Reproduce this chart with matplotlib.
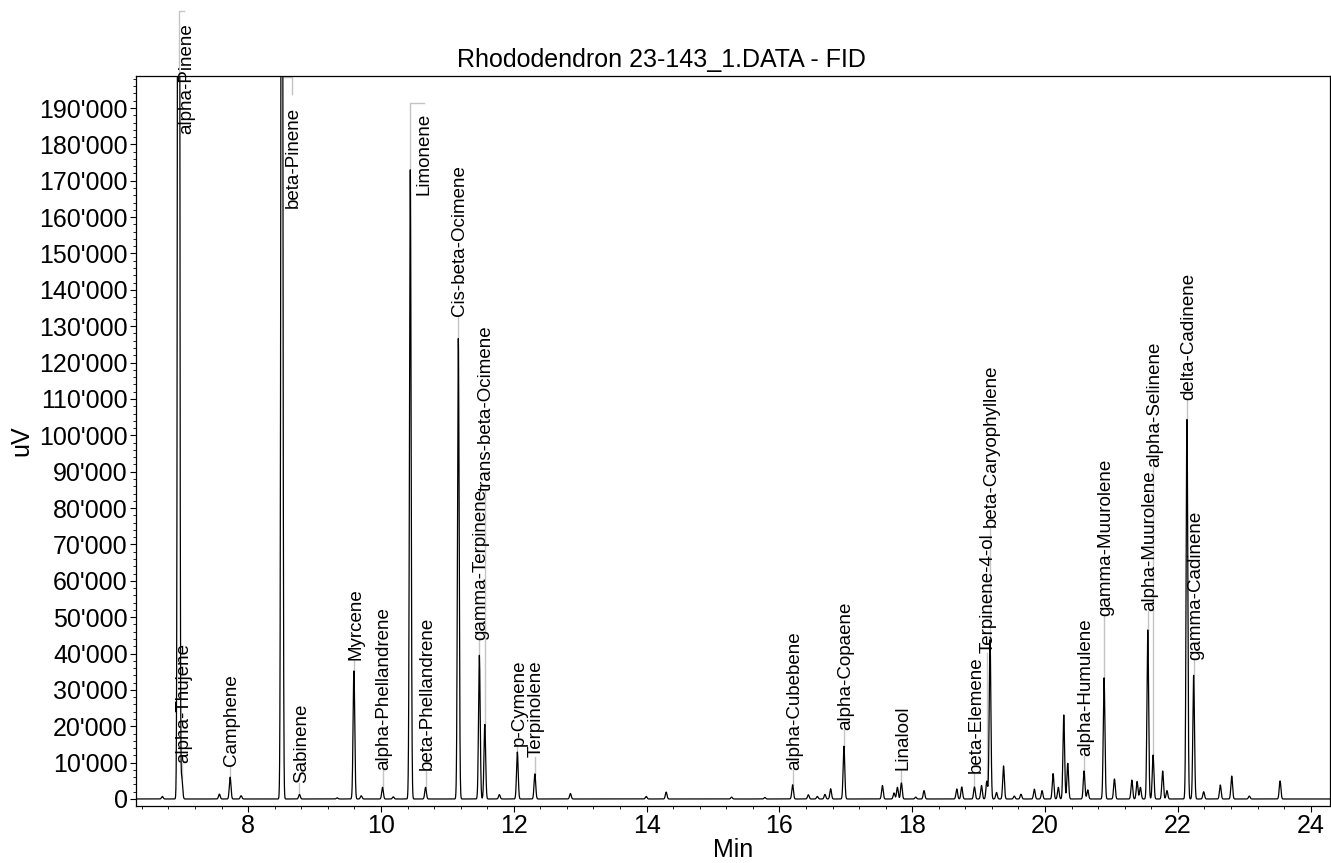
import numpy as np
import matplotlib
matplotlib.use("Agg")
import matplotlib.pyplot as plt
from matplotlib.ticker import MultipleLocator, FuncFormatter

plt.rcParams['font.family'] = ['Liberation Sans', 'DejaVu Sans']

# peak table: retention time (min), height (uV)
peak_times = [6.708, 6.953, 7.001, 7.567, 7.729, 7.894, 8.508, 8.773, 9.341, 9.593,
              9.703, 10.024, 10.185, 10.442, 10.672, 11.165, 11.482, 11.564, 11.783, 12.054,
              12.318, 12.853, 13.994, 14.295, 15.280, 15.781, 16.199, 16.436, 16.571, 16.686,
              16.772, 16.972, 17.551, 17.726, 17.777, 17.837, 18.053, 18.178, 18.671, 18.746,
              18.937, 19.043, 19.123, 19.172, 19.269, 19.375, 19.537, 19.638, 19.839, 19.955,
              20.121, 20.200, 20.282, 20.342, 20.588, 20.643, 20.889, 21.045, 21.307, 21.386,
              21.436, 21.547, 21.627, 21.771, 21.836, 22.137, 22.238, 22.389, 22.639, 22.811,
              23.076, 23.539]
peak_heights = [700, 600000, 5800, 1350, 6000, 900, 400000, 1250, 300, 35300,
                900, 3200, 600, 173000, 3200, 127000, 39500, 20500, 1200, 12900,
                6900, 1500, 700, 1900, 500, 400, 3900, 1150, 700, 1250,
                2800, 14500, 3700, 1650, 3200, 4400, 500, 2300, 2750, 3300,
                3300, 3700, 4900, 43800, 1800, 9100, 800, 1300, 2700, 2300,
                7000, 3200, 23100, 9800, 7700, 2500, 33400, 5500, 5200, 4800,
                3200, 46600, 12100, 7700, 2300, 104700, 34000, 2000, 3850, 6300,
                800, 4950]

# labelled peaks: name, index into the peak table, height where the label starts (uV)
label_names = ["alpha-Thujene", "Camphene", "Sabinene", "Myrcene", "alpha-Phellandrene",
               "beta-Phellandrene", "Cis-beta-Ocimene", "gamma-Terpinene", "trans-beta-Ocimene",
               "p-Cymene", "Terpinolene", "alpha-Cubebene", "alpha-Copaene", "Linalool",
               "beta-Elemene", "Terpinene-4-ol", "beta-Caryophyllene", "alpha-Humulene",
               "gamma-Muurolene", "alpha-Muurolene", "alpha-Selinene", "delta-Cadinene",
               "gamma-Cadinene"]
label_peaks = [2, 4, 7, 9, 11, 14, 15, 16, 17, 19, 20, 26, 31, 35, 40, 42, 43, 54, 56, 61, 62, 65, 66]
label_y = [9800, 9200, 4400, 38300, 8000, 8000, 132700, 43800, 84800, 14600, 11600, 8000,
           19000, 8000, 7100, 40100, 74900, 11700, 50200, 51600, 91400, 109800, 38300]

t = np.arange(6.3, 24.3, 0.002)
sigma = 0.0125
signal = np.zeros_like(t)
for tr, h in zip(peak_times, peak_heights):
    signal += h * np.exp(-0.5 * ((t - tr) / sigma) ** 2)

fig = plt.figure(figsize=(13.31, 8.63), dpi=100)
ax = fig.add_axes([0.1022, 0.0666, 0.8970, 0.8453])

ax.plot(t, signal, color='black', lw=0.9, zorder=3)
ax.set_xlim(6.312, 24.29)
ax.set_ylim(-1800, 198800)

grey = '#c4c4c4'
lab_fs = 13.5
dx = 0.025

for name, i, ly in zip(label_names, label_peaks, label_y):
    tr, h = peak_times[i], peak_heights[i]
    ax.plot([tr, tr], [h, ly], color=grey, lw=1, zorder=2)
    ax.text(tr + dx, ly, name, rotation=90, ha='center', va='bottom', fontsize=lab_fs)

# off-scale / side labels with small brackets
tp = peak_times[1]
ax.plot([tp, tp, 7.035], [198800, 216700, 216700], color=grey, lw=1, clip_on=False, zorder=2)
ax.text(7.073, 213400, "alpha-Pinene", rotation=90, ha='center', va='top', fontsize=lab_fs, clip_on=False)

tb = peak_times[6]
ax.plot([tb + 0.03, 8.659, 8.659], [198500, 198500, 193900], color=grey, lw=1, zorder=2)
ax.text(8.683, 190400, "beta-Pinene", rotation=90, ha='center', va='top', fontsize=lab_fs)

tl = peak_times[13]
ax.plot([tl, tl, 10.642], [peak_heights[13], 191500, 191500], color=grey, lw=1, zorder=2)
ax.text(10.655, 188600, "Limonene", rotation=90, ha='center', va='top', fontsize=lab_fs)

ax.xaxis.set_major_locator(MultipleLocator(2))
ax.xaxis.set_minor_locator(MultipleLocator(0.4))
ax.yaxis.set_major_locator(MultipleLocator(10000))
ax.yaxis.set_minor_locator(MultipleLocator(2000))
ax.yaxis.set_major_formatter(FuncFormatter(lambda v, p: f"{int(round(v)):,}".replace(",", "'")))
ax.tick_params(axis='both', which='major', direction='out', length=4, width=0.8, labelsize=18, pad=2)
ax.tick_params(axis='both', which='minor', direction='out', length=2, width=0.6)
for s in ax.spines.values():
    s.set_linewidth(0.9)

ax.set_xlabel("Min", fontsize=18, labelpad=0)
ax.set_ylabel("uV", fontsize=18, labelpad=4)
fig.text(0.497, 0.9227, "Rhododendron 23-143_1.DATA - FID", ha='center', va='baseline', fontsize=18)

fig.savefig("out.png", dpi=100)
